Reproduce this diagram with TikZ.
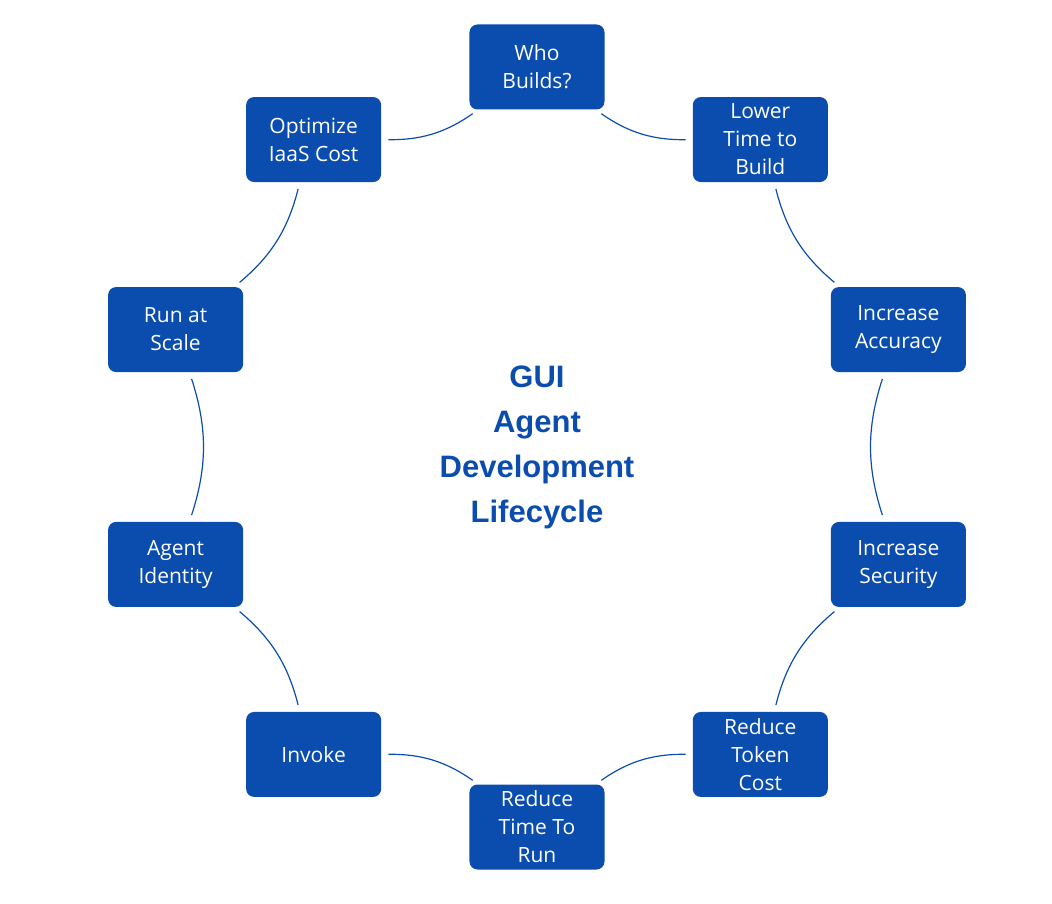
\documentclass[tikz,border=0pt]{standalone}
\usepackage{fontspec}
\setmainfont{Open Sans}
\newfontfamily\titlefont{Liberation Sans}
\definecolor{cycleblue}{HTML}{0B4DAE}
\tikzset{
  stage/.style={draw=none, fill=cycleblue, rounded corners=8pt, text=white,
    minimum width=135pt, minimum height=85pt, inner sep=2pt, align=center,
    font=\fontsize{21}{28}\selectfont},
  ring/.style={draw=cycleblue, line width=1.2pt, bend right=18, shorten <=7pt, shorten >=7pt}
}
\begin{document}
\begin{tikzpicture}[x=1pt,y=1pt]
\useasboundingbox (-537,-457) rectangle (515,447);

\node[text=cycleblue, align=center, font=\titlefont\bfseries\fontsize{31}{45}\selectfont] (title) at (0,0) {GUI\\Agent\\Development\\Lifecycle};

\foreach \i/\txt in {0/{Who\\Builds?},1/{Lower\\Time to\\Build},2/{Increase\\Accuracy},
    3/{Increase\\Security},4/{Reduce\\Token\\Cost},5/{Reduce\\Time To\\Run},
    6/{Invoke},7/{Agent\\Identity},8/{Run at\\Scale},9/{Optimize\\IaaS Cost}}
  \node[stage] (s\i) at ({90-36*\i}:380) {\txt};

\foreach \i [evaluate=\i as \j using {int(mod(\i+1,10))}] in {0,...,9}
  \draw[ring] (s\i) to (s\j);
\end{tikzpicture}
\end{document}
